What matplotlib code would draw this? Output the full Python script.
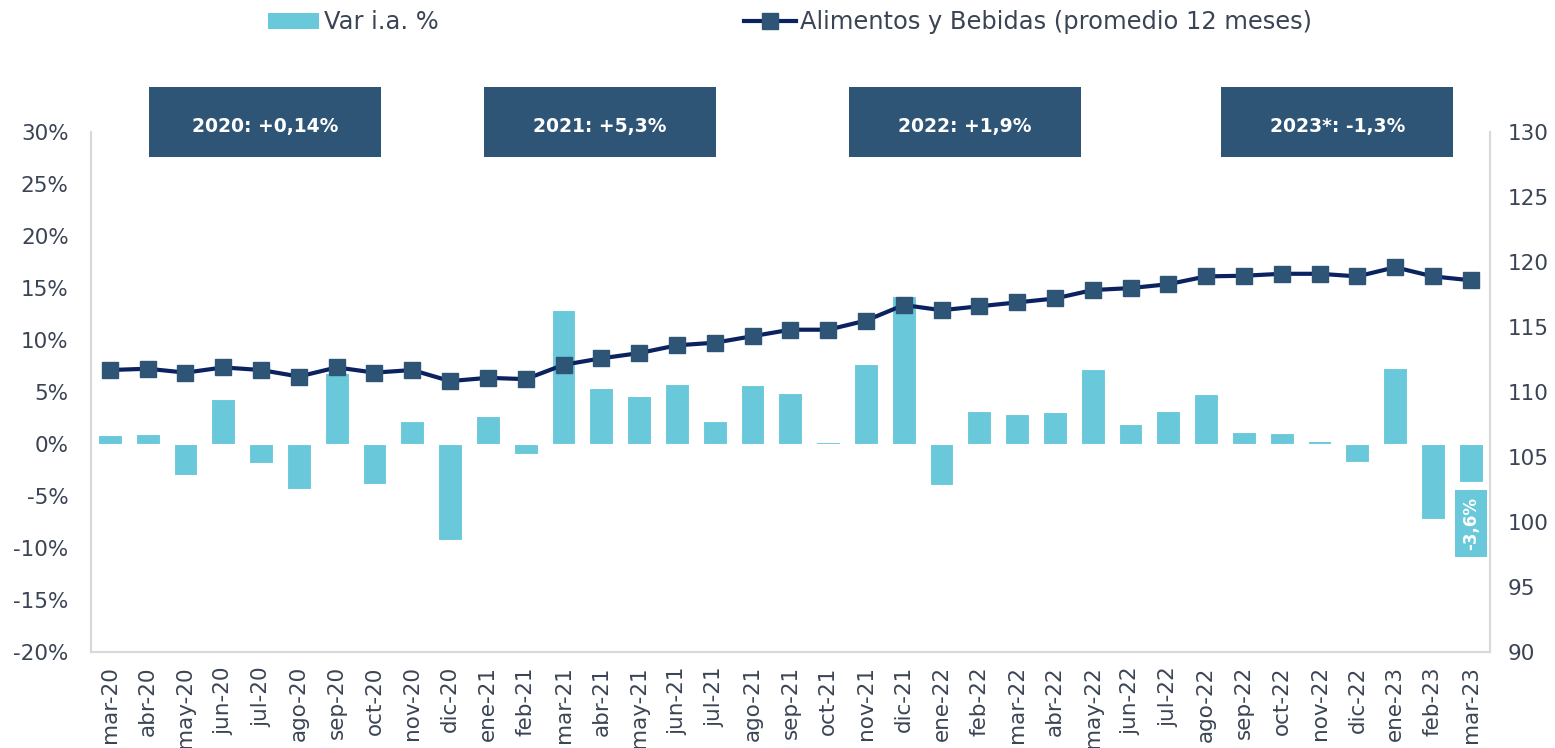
import numpy as np
import matplotlib.pyplot as plt
from matplotlib.patches import Rectangle
from matplotlib.lines import Line2D

meses = ["mar-20", "abr-20", "may-20", "jun-20", "jul-20", "ago-20", "sep-20", "oct-20",
         "nov-20", "dic-20", "ene-21", "feb-21", "mar-21", "abr-21", "may-21", "jun-21",
         "jul-21", "ago-21", "sep-21", "oct-21", "nov-21", "dic-21", "ene-22", "feb-22",
         "mar-22", "abr-22", "may-22", "jun-22", "jul-22", "ago-22", "sep-22", "oct-22",
         "nov-22", "dic-22", "ene-23", "feb-23", "mar-23"]

# variacion interanual (%)
var_ia = [0.9, 1.0, -3.0, 4.3, -1.8, -4.3, 6.8, -3.8, 2.2, -9.2, 2.7, -0.9,
          12.9, 5.4, 4.6, 5.8, 2.2, 5.7, 4.9, 0.2, 7.7, 14.2, -3.9, 3.2,
          2.9, 3.1, 7.2, 1.9, 3.2, 4.8, 1.2, 1.1, 0.3, -1.7, 7.3, -7.2, -3.6]

# alimentos y bebidas, promedio 12 meses
alimentos = [111.7, 111.8, 111.5, 111.9, 111.7, 111.2, 111.9, 111.5, 111.7, 110.85, 111.1, 111.0,
             112.1, 112.6, 113.0, 113.6, 113.8, 114.3, 114.8, 114.8, 115.5, 116.7, 116.3, 116.6,
             116.9, 117.2, 117.85, 118.0, 118.3, 118.9, 118.95, 119.1, 119.1, 118.9, 119.6, 118.9, 118.6]

cajas = ["2020: +0,14%", "2021: +5,3%", "2022: +1,9%", "2023*: -1,3%"]
cajas_x = [1.03, 9.9, 19.55, 29.4]

c_bar = "#69C8D9"
c_linea = "#0B2260"
c_marker = "#2E5476"
c_texto = "#3A4454"

fig = plt.figure(figsize=(15.55, 7.48), dpi=100)
ax = fig.add_axes([0.0585, 0.128, 0.8995, 0.6955])
ax2 = ax.twinx()

x = np.arange(len(meses))
ax.bar(x, var_ia, width=0.63, color=c_bar, edgecolor="white", linewidth=0.8, zorder=2)
ax2.plot(x, alimentos, color=c_linea, linewidth=3, marker="s", markersize=11,
         markerfacecolor=c_marker, markeredgecolor=c_marker, zorder=3)

ax.set_xlim(-0.5, len(meses) - 0.5)
ax.set_ylim(-20, 30)
ax.set_yticks(np.arange(-20, 31, 5))
ax.set_yticklabels([f"{v}%" for v in range(-20, 31, 5)])
ax2.set_ylim(90, 130)
ax2.set_yticks(np.arange(90, 131, 5))

ax.set_xticks(x)
ax.set_xticklabels(meses, rotation=90)

for a in (ax, ax2):
    a.spines["top"].set_visible(False)
    for s in ("left", "right", "bottom"):
        a.spines[s].set_color("#D9D9D9")
        a.spines[s].set_linewidth(1.5)

ax.tick_params(axis="y", length=0, pad=16, labelsize=15.5, labelcolor=c_texto)
ax.tick_params(axis="x", length=0, pad=10, labelsize=15.5, labelcolor=c_texto)
ax2.tick_params(axis="y", length=0, pad=13, labelsize=15.5, labelcolor=c_texto)

# etiqueta del ultimo dato
ax.annotate(f"{var_ia[-1]:.1f}%".replace(".", ","), xy=(x[-1], var_ia[-1]),
            xytext=(0, -11), textcoords="offset points", rotation=90,
            ha="center", va="top", color="white", fontsize=12, fontweight="bold",
            bbox=dict(boxstyle="square,pad=0.42", fc=c_bar, ec="none"), zorder=5)

# cajas con promedio anual
for txt, x0 in zip(cajas, cajas_x):
    ax.add_patch(Rectangle((x0, 27.6), 6.14, 6.7, facecolor=c_marker, edgecolor="none",
                           clip_on=False, zorder=6))
    ax.text(x0 + 3.07, 30.5, txt, ha="center", va="center", color="white",
            fontsize=13.5, fontweight="bold", zorder=7, clip_on=False)

handles = [Rectangle((0, 0), 1, 1, facecolor=c_bar, edgecolor="none"),
           Line2D([0], [0], color=c_linea, linewidth=3, marker="s", markersize=11,
                  markerfacecolor=c_marker, markeredgecolor=c_marker)]
fig.legend(handles, ["Var i.a. %", "Alimentos y Bebidas (promedio 12 meses)"],
           loc="center", bbox_to_anchor=(0.508, 0.97), ncol=2, frameon=False,
           fontsize=17.4, labelcolor=c_texto, handlelength=2.15, handleheight=0.7,
           handletextpad=0.2, columnspacing=12.6)

fig.savefig("out.png", dpi=100)
